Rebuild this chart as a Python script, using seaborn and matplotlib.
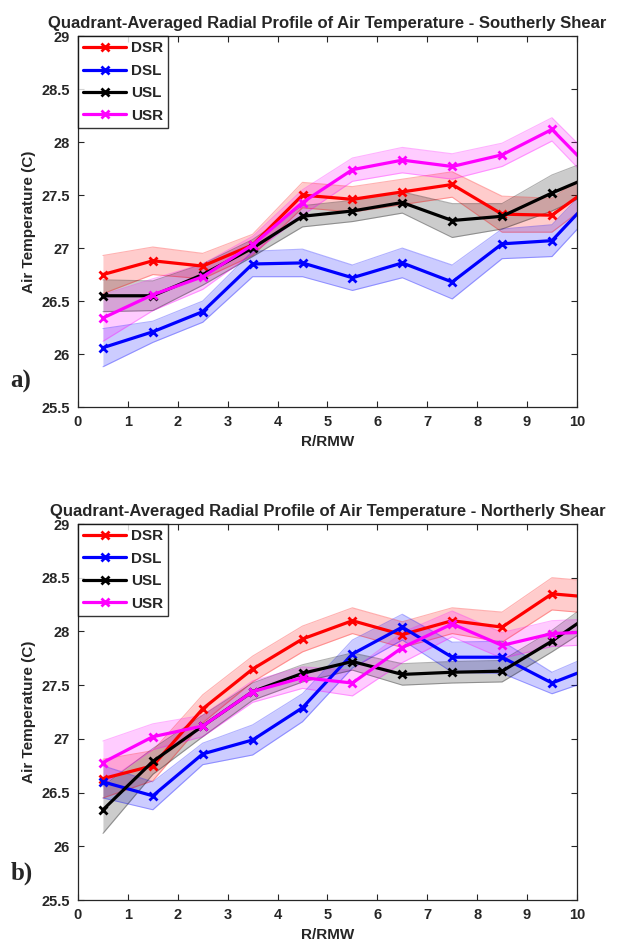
import numpy as np
import pandas as pd
import matplotlib
matplotlib.use("Agg")
import matplotlib.pyplot as plt
import seaborn as sns
from matplotlib.ticker import FuncFormatter

# radial bins (R/RMW); last bin runs past the axis edge and gets clipped
r_rmw = [0.5, 1.5, 2.5, 3.5, 4.5, 5.5, 6.5, 7.5, 8.5, 9.5, 10.5]
quadrants = ["DSR", "DSL", "USL", "USR"]
colors = {"DSR": "#ff0000", "DSL": "#0000ff", "USL": "#000000", "USR": "#ff00ff"}

# Southerly shear: mean air temperature (C) and half-width of the shaded band
south_dsr = [26.75, 26.88, 26.83, 27.03, 27.50, 27.46, 27.53, 27.60, 27.32, 27.31, 27.65]
south_dsl = [26.06, 26.21, 26.40, 26.85, 26.86, 26.72, 26.86, 26.68, 27.04, 27.07, 27.57]
south_usl = [26.55, 26.55, 26.75, 27.00, 27.30, 27.35, 27.43, 27.26, 27.30, 27.52, 27.72]
south_usr = [26.34, 26.56, 26.73, 27.03, 27.43, 27.74, 27.83, 27.77, 27.88, 28.12, 27.64]
south_dsr_err = [0.18, 0.13, 0.12, 0.10, 0.12, 0.12, 0.12, 0.12, 0.17, 0.16, 0.14]
south_dsl_err = [0.18, 0.10, 0.10, 0.12, 0.13, 0.12, 0.14, 0.16, 0.14, 0.15, 0.14]
south_usl_err = [0.15, 0.14, 0.10, 0.08, 0.10, 0.10, 0.10, 0.16, 0.12, 0.17, 0.15]
south_usr_err = [0.22, 0.15, 0.12, 0.08, 0.12, 0.11, 0.12, 0.12, 0.11, 0.11, 0.12]

# Northerly shear
north_dsr = [26.63, 26.75, 27.28, 27.65, 27.93, 28.10, 27.97, 28.10, 28.04, 28.35, 28.31]
north_dsl = [26.60, 26.47, 26.86, 26.99, 27.29, 27.79, 28.04, 27.76, 27.76, 27.52, 27.70]
north_usl = [26.34, 26.79, 27.12, 27.44, 27.61, 27.72, 27.60, 27.62, 27.63, 27.91, 28.23]
north_usr = [26.78, 27.02, 27.12, 27.44, 27.57, 27.52, 27.85, 28.07, 27.87, 27.98, 28.00]
north_dsr_err = [0.18, 0.14, 0.13, 0.12, 0.12, 0.12, 0.12, 0.12, 0.14, 0.15, 0.15]
north_dsl_err = [0.15, 0.13, 0.10, 0.14, 0.13, 0.13, 0.12, 0.14, 0.15, 0.10, 0.12]
north_usl_err = [0.22, 0.12, 0.10, 0.08, 0.08, 0.08, 0.10, 0.10, 0.10, 0.10, 0.12]
north_usr_err = [0.20, 0.12, 0.10, 0.10, 0.10, 0.12, 0.14, 0.12, 0.12, 0.12, 0.12]

panels = [
    ("Southerly", "a)",
     [south_dsr, south_dsl, south_usl, south_usr],
     [south_dsr_err, south_dsl_err, south_usl_err, south_usr_err]),
    ("Northerly", "b)",
     [north_dsr, north_dsl, north_usl, north_usr],
     [north_dsr_err, north_dsl_err, north_usl_err, north_usr_err]),
]

sns.set_style("ticks")
plt.rcParams["font.family"] = ["Liberation Sans", "DejaVu Sans"]
plt.rcParams["font.weight"] = "bold"

fig = plt.figure(figsize=(6.21, 9.51), dpi=100)
ax_pos = [[0.1256, 0.572, 0.8034, 0.390], [0.1256, 0.0536, 0.8034, 0.3954]]

for (shear, tag, means, errs), pos in zip(panels, ax_pos):
    ax = fig.add_axes(pos)
    rows = []
    for q, m in zip(quadrants, means):
        for r, v in zip(r_rmw, m):
            rows.append({"R/RMW": r, "T": v, "Quadrant": q})
    df = pd.DataFrame(rows)

    for q, m, e in zip(quadrants, means, errs):
        lo = np.array(m) - np.array(e)
        hi = np.array(m) + np.array(e)
        ax.fill_between(r_rmw, lo, hi, color=colors[q], alpha=0.2, lw=0)
        ax.plot(r_rmw, lo, color=colors[q], alpha=0.3, lw=0.8)
        ax.plot(r_rmw, hi, color=colors[q], alpha=0.3, lw=0.8)

    n_before = len(ax.lines)
    sns.lineplot(data=df, x="R/RMW", y="T", hue="Quadrant", palette=colors,
                 hue_order=quadrants, lw=2.3, ax=ax)
    for ln in ax.lines[n_before:]:
        ln.set_marker("x")
        ln.set_markeredgewidth(2)
        ln.set_markersize(6)
        ln.set_markeredgecolor(ln.get_color())

    ax.set_xlim(0, 10)
    ax.set_ylim(25.5, 29)
    ax.set_xticks(range(0, 11))
    ax.set_yticks(np.arange(25.5, 29.01, 0.5))
    ax.yaxis.set_major_formatter(FuncFormatter(lambda v, p: f"{v:g}"))
    ax.tick_params(direction="in", top=True, right=True, length=4,
                   width=0.8, labelsize=10.5, pad=6)
    for lab in ax.get_xticklabels() + ax.get_yticklabels():
        lab.set_fontweight("bold")
    for sp in ax.spines.values():
        sp.set_linewidth(0.9)
        sp.set_color("#262626")

    ax.set_xlabel("R/RMW", fontsize=11, fontweight="bold", labelpad=4)
    ax.set_ylabel("Air Temperature (C)", fontsize=11, fontweight="bold", labelpad=4)
    ax.set_title(f"Quadrant-Averaged Radial Profile of Air Temperature - {shear} Shear",
                 fontsize=12, fontweight="bold", pad=6)

    leg = ax.legend(loc="upper left", borderaxespad=0, frameon=True, fancybox=False,
                    handlelength=2.8, handletextpad=0.3, borderpad=0.35,
                    labelspacing=0.55, prop={"weight": "bold", "size": 11})
    leg.get_frame().set_edgecolor("black")
    leg.get_frame().set_linewidth(1)
    for h in leg.get_lines():
        h.set_marker("x")
        h.set_markeredgewidth(2)
        h.set_markeredgecolor(h.get_color())
        h.set_linewidth(2.3)

    ax.text(-0.135, 0.07, tag, transform=ax.transAxes, fontsize=18,
            fontweight="bold", family="Liberation Serif", ha="left", va="center")

fig.savefig("out.png", dpi=100)
